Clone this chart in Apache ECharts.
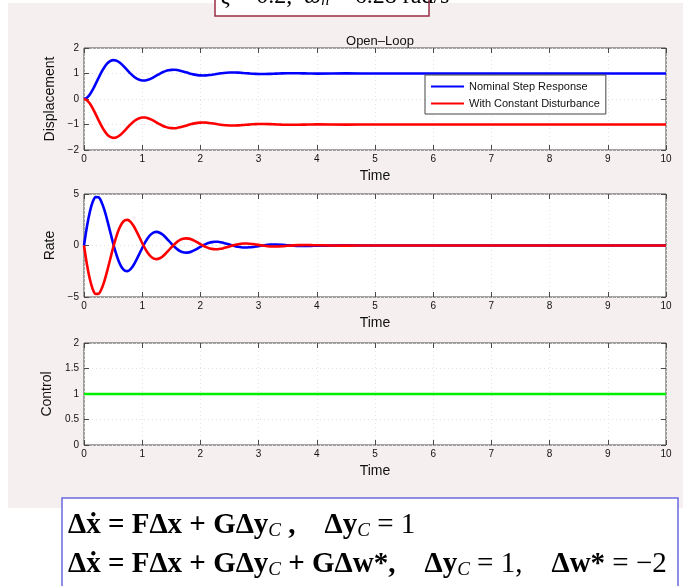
<!DOCTYPE html>
<html>
<head>
<meta charset="utf-8">
<script src="https://cdn.jsdelivr.net/npm/echarts@6/dist/echarts.min.js"></script>
<style>
html,body{margin:0;padding:0;background:#fff;}
#wrap{position:relative;width:691px;height:586px;overflow:hidden;}
#panel{position:absolute;left:8px;top:3px;width:675px;height:505px;background:#f6efef;}
#chart{position:absolute;left:0;top:0;width:691px;height:586px;}
</style>
</head>
<body>
<div id="wrap"><div id="panel"></div><div id="chart"></div></div>
<script>
// ---- data ----
const time = [0,0.05,0.1,0.15,0.2,0.25,0.3,0.35,0.4,0.45,0.5,0.55,0.6,0.65,0.7,0.75,0.8,0.85,0.9,0.95,1.0,
  1.05,1.1,1.15,1.2,1.25,1.3,1.35,1.4,1.45,1.5,1.55,1.6,1.65,1.7,1.75,1.8,1.85,1.9,1.95,2.0,
  2.05,2.1,2.15,2.2,2.25,2.3,2.35,2.4,2.45,2.5,2.55,2.6,2.65,2.7,2.75,2.8,2.85,2.9,2.95,3.0,
  3.1,3.2,3.3,3.4,3.5,3.6,3.7,3.8,3.9,4.0,4.5,5,6,7,8,9,10];

const dispNominal = [0,0.047,0.176,0.366,0.591,0.827,1.052,1.244,1.393,1.487,1.525,
  1.511,1.451,1.357,1.242,1.117,0.997,0.891,0.807,0.752,0.725,
  0.727,0.754,0.800,0.859,0.924,0.989,1.047,1.093,1.126,1.143,
  1.145,1.134,1.111,1.081,1.047,1.013,0.982,0.956,0.937,0.926,
  0.923,0.928,0.939,0.954,0.971,0.990,1.007,1.021,1.032,1.038,
  1.041,1.039,1.034,1.026,1.017,1.008,0.998,0.991,0.984,0.980,
  0.979,0.985,0.995,1.004,1.010,1.011,1.008,1.003,0.998,0.995,
  1.003,1,1,1,1,1,1];

const dispDisturbed = [0,-0.047,-0.176,-0.366,-0.591,-0.827,-1.052,-1.244,-1.393,-1.487,-1.525,
  -1.511,-1.451,-1.357,-1.242,-1.117,-0.997,-0.891,-0.807,-0.752,-0.725,
  -0.727,-0.754,-0.800,-0.859,-0.924,-0.989,-1.047,-1.093,-1.126,-1.143,
  -1.145,-1.134,-1.111,-1.081,-1.047,-1.013,-0.982,-0.956,-0.937,-0.926,
  -0.923,-0.928,-0.939,-0.954,-0.971,-0.990,-1.007,-1.021,-1.032,-1.038,
  -1.041,-1.039,-1.034,-1.026,-1.017,-1.008,-0.998,-0.991,-0.984,-0.980,
  -0.979,-0.985,-0.995,-1.004,-1.010,-1.011,-1.008,-1.003,-0.998,-0.995,
  -1.003,-1,-1,-1,-1,-1,-1];

const rateNominal = [0,1.82,3.26,4.24,4.70,4.68,4.23,3.45,2.44,1.33,0.22,
  -0.77,-1.58,-2.14,-2.45,-2.49,-2.30,-1.92,-1.40,-0.83,-0.24,
  0.30,0.75,1.08,1.27,1.32,1.24,1.06,0.80,0.50,0.19,
  -0.10,-0.35,-0.54,-0.65,-0.69,-0.67,-0.58,-0.45,-0.30,-0.13,
  0.02,0.16,0.26,0.33,0.36,0.36,0.32,0.25,0.17,0.09,
  0.00,-0.07,-0.13,-0.17,-0.19,-0.19,-0.17,-0.14,-0.10,-0.06,
  0.03,0.09,0.10,0.08,0.03,-0.01,-0.04,-0.05,-0.04,-0.02,
  0.01,0,0,0,0,0,0];

const rateDisturbed = [0,-1.82,-3.26,-4.24,-4.70,-4.68,-4.23,-3.45,-2.44,-1.33,-0.22,
  0.77,1.58,2.14,2.45,2.49,2.30,1.92,1.40,0.83,0.24,
  -0.30,-0.75,-1.08,-1.27,-1.32,-1.24,-1.06,-0.80,-0.50,-0.19,
  0.10,0.35,0.54,0.65,0.69,0.67,0.58,0.45,0.30,0.13,
  -0.02,-0.16,-0.26,-0.33,-0.36,-0.36,-0.32,-0.25,-0.17,-0.09,
  0.00,0.07,0.13,0.17,0.19,0.19,0.17,0.14,0.10,0.06,
  -0.03,-0.09,-0.10,-0.08,-0.03,0.01,0.04,0.05,0.04,0.02,
  -0.01,0,0,0,0,0,0];

const controlTime = [0, 10];
const controlValue = [1, 1];

const seriesNames = ['Nominal Step Response', 'With Constant Disturbance'];
const seriesColors = ['#0000ff', '#ff0000'];
const yLabels = ['Displacement', 'Rate', 'Control'];
const xLabel = 'Time';
const plotTitle = 'Open\u2013Loop';
const xTicks = {min: 0, max: 10, interval: 1};
const yTicks = [
  {min: -2, max: 2, interval: 1},
  {min: -5, max: 5, interval: 5},
  {min: 0, max: 2, interval: 0.5}
];

// ---- chart ----
const chart = echarts.init(document.getElementById('chart'), null, {renderer: 'canvas'});
const FONT = 'Liberation Sans, Arial, Helvetica, sans-serif';
const SERIF = 'Liberation Serif, Times New Roman, serif';
const AX = '#4a4a4a';
const grids = [
  {left: 84, right: 25, top: 48, height: 102},
  {left: 84, right: 25, top: 194, height: 103},
  {left: 84, right: 25, top: 343, height: 102}
].map(g => Object.assign({show: true, backgroundColor: '#fff', borderColor: AX, borderWidth: 1}, g));

const minus = v => String(v).replace('-', '\u2212');
const tick = {show: true, inside: true, length: 5, lineStyle: {color: AX}};
const gridLine = {show: true, lineStyle: {color: '#e2e2e2', type: [1, 3], width: 1}};
const xAxes = [], yAxes = [];
grids.forEach((g, i) => {
  xAxes.push({
    type: 'value', gridIndex: i, position: 'bottom', min: xTicks.min, max: xTicks.max, interval: xTicks.interval,
    name: xLabel, nameLocation: 'middle', nameGap: 19,
    nameTextStyle: {fontFamily: FONT, fontSize: 14, color: '#111'},
    axisLine: {show: false, onZero: false},
    axisTick: tick,
    axisLabel: {fontFamily: FONT, fontSize: 10, color: '#111', margin: 4, formatter: minus},
    splitLine: gridLine
  });
  xAxes.push({
    type: 'value', gridIndex: i, position: 'top', min: xTicks.min, max: xTicks.max, interval: xTicks.interval,
    axisLine: {show: false, onZero: false},
    axisTick: tick,
    axisLabel: {show: false}, splitLine: {show: false}
  });
  yAxes.push({
    type: 'value', gridIndex: i, position: 'left', min: yTicks[i].min, max: yTicks[i].max, interval: yTicks[i].interval,
    name: yLabels[i], nameLocation: 'middle', nameGap: 27, nameRotate: 90,
    nameTextStyle: {fontFamily: FONT, fontSize: 14, color: '#111'},
    axisLine: {show: false, onZero: false},
    axisTick: tick,
    axisLabel: {fontFamily: FONT, fontSize: 10, color: '#111', margin: 5, formatter: minus},
    splitLine: gridLine
  });
  yAxes.push({
    type: 'value', gridIndex: i, position: 'right', min: yTicks[i].min, max: yTicks[i].max, interval: yTicks[i].interval,
    axisLine: {show: false, onZero: false},
    axisTick: tick,
    axisLabel: {show: false}, splitLine: {show: false}
  });
});

const pairs = (xs, ys) => xs.map((x, k) => [x, ys[k]]);
const lineSeries = (name, data, color, gi) => ({
  name, type: 'line', xAxisIndex: gi * 2, yAxisIndex: gi * 2, data,
  symbol: 'none', showSymbol: false, smooth: 0.3, silent: true, animation: false,
  lineStyle: {color, width: 2.6}, itemStyle: {color}, z: 3
});

const eqBlue = '#1515f0', eqRed = '#f01010';
const eqRich = (color) => ({
  b: {fontFamily: SERIF, fontWeight: 'bold', fontSize: 29, color, lineHeight: 34, verticalAlign: 'bottom'},
  n: {fontFamily: SERIF, fontWeight: 'normal', fontSize: 29, color, lineHeight: 34, verticalAlign: 'bottom'},
  s: {fontFamily: SERIF, fontStyle: 'italic', fontSize: 19, color, lineHeight: 8, verticalAlign: 'bottom'}
});

const option = {
  backgroundColor: 'transparent',
  animation: false,
  title: {text: plotTitle, left: 375, top: 30, textAlign: 'center',
    textStyle: {fontFamily: FONT, fontSize: 13, fontWeight: 'normal', color: '#111'}},
  legend: {
    data: seriesNames.map((n, k) => ({name: n, icon: 'rect',
      itemStyle: {color: seriesColors[k], borderWidth: 0, opacity: 1}})),
    left: 425, top: 75, orient: 'vertical', itemGap: 4,
    itemWidth: 33, itemHeight: 2, padding: [5, 6, 4, 6],
    borderColor: '#444', borderWidth: 1, backgroundColor: '#fff', borderRadius: 0,
    selectedMode: false,
    textStyle: {fontFamily: FONT, fontSize: 11, color: '#111', lineHeight: 13}
  },
  grid: grids,
  xAxis: xAxes,
  yAxis: yAxes,
  series: [
    lineSeries(seriesNames[0], pairs(time, dispNominal), seriesColors[0], 0),
    lineSeries(seriesNames[1], pairs(time, dispDisturbed), seriesColors[1], 0),
    lineSeries(seriesNames[0], pairs(time, rateNominal), seriesColors[0], 1),
    lineSeries(seriesNames[1], pairs(time, rateDisturbed), seriesColors[1], 1),
    lineSeries('Control', pairs(controlTime, controlValue), '#00ee00', 2)
  ],
  graphic: [
    {type: 'rect', shape: {x: 215, y: -30, width: 214, height: 46},
     style: {fill: '#fff', stroke: '#9b2d45', lineWidth: 1.5}, silent: true},
    {type: 'text', x: 221, y: -17, silent: true,
     style: {
       text: '{i|\u03b6}{r| = 0.2,  }{i|\u03c9}{s|n}{r| = 6.28 rad/s}',
       verticalAlign: 'top',
       rich: {
         i: {fontFamily: SERIF, fontStyle: 'italic', fontSize: 24, color: '#000', lineHeight: 26, verticalAlign: 'bottom'},
         r: {fontFamily: SERIF, fontSize: 24, color: '#000', lineHeight: 26, verticalAlign: 'bottom'},
         s: {fontFamily: SERIF, fontStyle: 'italic', fontSize: 16, color: '#000', lineHeight: 6, verticalAlign: 'bottom'}
       }
     }},
    {type: 'rect', shape: {x: 62, y: 498, width: 616, height: 110},
     style: {fill: '#fff', stroke: '#6a6ae0', lineWidth: 1.5}, silent: true},
    {type: 'text', x: 68, y: 506, silent: true,
     style: {
       text: '{b|\u0394\u1e8b = F\u0394x + G\u0394y}{s|C}{b| ,    \u0394y}{s|C}{n| = 1}',
       verticalAlign: 'top', rich: eqRich(eqBlue)
     }},
    {type: 'text', x: 68, y: 545, silent: true,
     style: {
       text: '{b|\u0394\u1e8b = F\u0394x + G\u0394y}{s|C}{b| + G\u0394w*,    \u0394y}{s|C}{n| = 1,    }{b|\u0394w*}{n| = \u22122}',
       verticalAlign: 'top', rich: eqRich(eqRed)
     }}
  ]
};
chart.setOption(option);
</script>
</body>
</html>
